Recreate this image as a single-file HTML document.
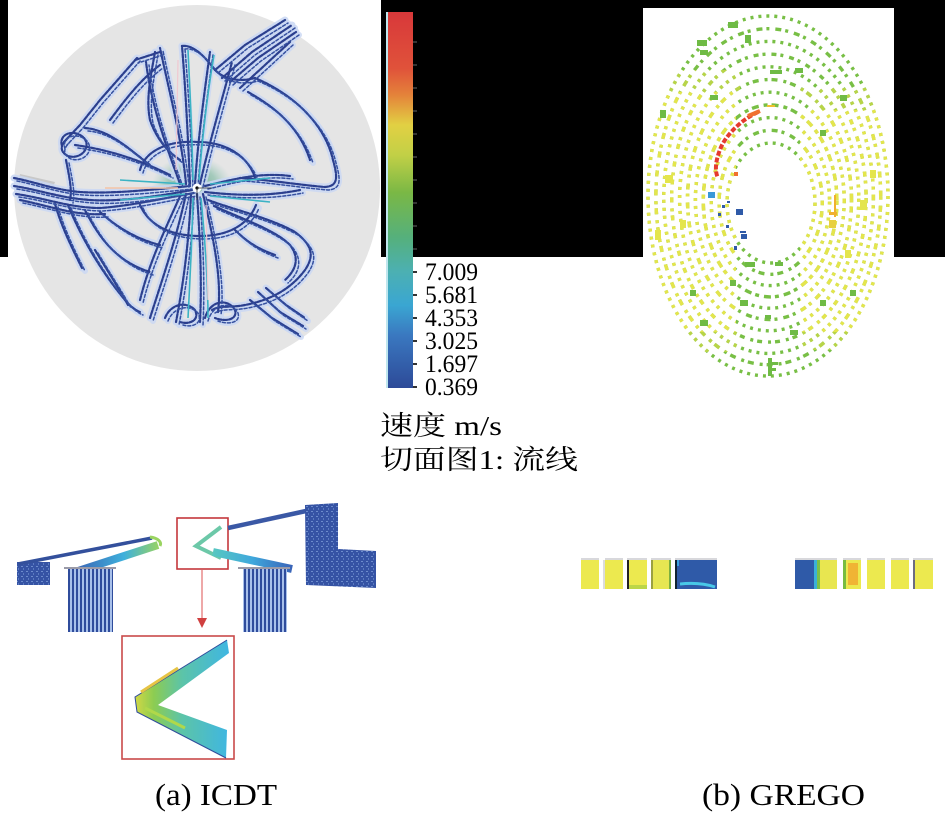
<!DOCTYPE html>
<html><head><meta charset="utf-8"><style>
html,body{margin:0;padding:0;background:#fff;}
svg{display:block;}
</style></head><body>
<svg width="945" height="823" viewBox="0 0 945 823" xmlns="http://www.w3.org/2000/svg">
<defs>
 <linearGradient id="cb" x1="0" y1="0" x2="0" y2="1">
  <stop offset="0" stop-color="#d8383a"/>
  <stop offset="0.15" stop-color="#e0523a"/>
  <stop offset="0.22" stop-color="#e4823a"/>
  <stop offset="0.30" stop-color="#e2d043"/>
  <stop offset="0.38" stop-color="#c2d046"/>
  <stop offset="0.48" stop-color="#7ab845"/>
  <stop offset="0.60" stop-color="#55b07c"/>
  <stop offset="0.69" stop-color="#4cb0b2"/>
  <stop offset="0.78" stop-color="#3aa6d2"/>
  <stop offset="0.86" stop-color="#3a78c0"/>
  <stop offset="1" stop-color="#2d4a98"/>
 </linearGradient>
 <radialGradient id="glow" cx="0.5" cy="0.5" r="0.5">
  <stop offset="0" stop-color="#6aae8a" stop-opacity="0.95"/>
  <stop offset="0.6" stop-color="#7ab8a0" stop-opacity="0.6"/>
  <stop offset="1" stop-color="#9cc8c0" stop-opacity="0"/>
 </radialGradient>
 <pattern id="vs" width="4" height="10" patternUnits="userSpaceOnUse">
  <rect width="4" height="10" fill="#a8c0ea"/><rect width="2" height="10" fill="#2f4c9c"/>
 </pattern>
 <pattern id="tex" width="5" height="5" patternUnits="userSpaceOnUse">
  <rect width="5" height="5" fill="#3553a4"/><rect x="1" y="1" width="2" height="1" fill="#6d8ccc"/><rect x="3" y="3" width="1" height="2" fill="#5a7ac0"/>
 </pattern>
 <linearGradient id="vg" x1="135" y1="0" x2="229" y2="0" gradientUnits="userSpaceOnUse">
  <stop offset="0" stop-color="#d2d844"/>
  <stop offset="0.2" stop-color="#8ccc52"/>
  <stop offset="0.5" stop-color="#5cc4a8"/>
  <stop offset="1" stop-color="#3fb6e2"/>
 </linearGradient>
 <linearGradient id="lb" x1="70" y1="0" x2="160" y2="0" gradientUnits="userSpaceOnUse">
  <stop offset="0" stop-color="#3a5cb0"/>
  <stop offset="0.6" stop-color="#3eb0dc"/>
  <stop offset="1" stop-color="#9ad460"/>
 </linearGradient>
 <linearGradient id="rb" x1="212" y1="0" x2="292" y2="0" gradientUnits="userSpaceOnUse">
  <stop offset="0" stop-color="#58c8c0"/>
  <stop offset="0.5" stop-color="#3fa8dc"/>
  <stop offset="1" stop-color="#3a64b8"/>
 </linearGradient>
 <clipPath id="ylw"><rect x="640" y="92" width="96" height="240"/><rect x="800" y="110" width="100" height="222"/></clipPath>
 <clipPath id="ylg"><rect x="640" y="70" width="100" height="22"/><rect x="640" y="332" width="100" height="20"/><rect x="800" y="88" width="100" height="22"/><rect x="800" y="332" width="100" height="18"/></clipPath>
 <g id="sl" fill="none" stroke-linecap="round" stroke-linejoin="round">
  <path d="M14,178 C35,182 55,190 80,192 C110,194 150,190 190,186"/>
  <path d="M14,186 C40,190 60,198 90,200 C120,202 160,196 192,190"/>
  <path d="M16,194 C45,198 70,208 100,208 C130,206 165,198 194,193"/>
  <path d="M20,200 C50,206 75,216 105,214"/>
  <path d="M62,146 C58,134 74,128 84,138 C92,148 80,160 68,156 C60,152 60,146 66,140"/>
  <path d="M66,160 C70,180 72,190 70,200"/>
  <path d="M137,58 L100,100 L80,125 L64,142"/>
  <path d="M155,52 C150,80 146,100 150,120 C155,135 165,150 180,160"/>
  <path d="M160,52 L135,60"/>
  <path d="M85,128 C110,130 130,150 150,165"/>
  <path d="M75,145 C110,150 140,160 170,175"/>
  <path d="M140,170 C145,150 170,140 198,142 C230,142 250,160 255,178"/>
  <path d="M140,205 C150,228 175,236 200,236 C228,236 248,225 256,205"/>
  <path d="M186,184 C182,140 170,95 160,48"/>
  <path d="M190,184 C188,140 186,95 182,46"/>
  <path d="M195,184 C198,140 204,95 210,52"/>
  <path d="M200,184 C210,140 222,100 232,62"/>
  <path d="M180,184 C168,150 152,110 146,62"/>
  <path d="M186,194 C176,240 162,280 150,318"/>
  <path d="M191,194 C189,240 184,280 176,322"/>
  <path d="M197,194 C200,240 202,280 200,322"/>
  <path d="M203,194 C214,240 222,280 218,312"/>
  <path d="M181,194 C165,230 150,260 140,300"/>
  <path d="M182,46 C190,45 200,50 215,70 C225,80 240,82 255,78"/>
  <path d="M215,70 L245,45 L285,20"/>
  <path d="M222,78 L252,52 L292,25"/>
  <path d="M230,82 L258,58 L296,32"/>
  <path d="M240,88 L265,65 L290,42"/>
  <path d="M255,78 C295,95 325,125 333,160 C338,178 338,186 325,187 C300,185 270,180 240,178"/>
  <path d="M248,92 C280,110 300,130 310,160"/>
  <path d="M205,186 C230,180 260,172 290,176"/>
  <path d="M205,192 C240,196 270,196 300,190"/>
  <path d="M208,200 C235,210 270,218 295,232 C312,245 315,255 305,270 C290,290 270,300 245,305 C230,308 220,305 212,310"/>
  <path d="M214,206 C245,220 275,230 290,245 C300,258 296,270 285,280"/>
  <path d="M235,230 C250,245 262,250 275,255"/>
  <path d="M250,300 L272,318 L298,334"/>
  <path d="M258,292 L280,312 L303,326"/>
  <path d="M266,288 L286,305 L305,318"/>
  <path d="M165,318 C170,305 185,300 195,310 C200,320 190,325 180,322"/>
  <path d="M205,318 C210,300 228,298 235,310 C238,320 225,322 215,318"/>
  <path d="M68,205 C80,235 100,270 125,300 C130,306 135,310 140,312"/>
  <path d="M85,210 C100,240 118,262 150,272"/>
  <path d="M100,212 C120,230 140,240 160,245"/>
  <path d="M55,204 C62,228 72,248 82,268"/>
  <path d="M110,120 C125,100 140,80 160,65"/>
  <path d="M95,250 C110,275 120,290 128,305"/>
 </g>
</defs>

<rect width="945" height="823" fill="#fff"/>
<rect x="0" y="0" width="945" height="257" fill="#000"/>
<rect x="8" y="0" width="373" height="257" fill="#fff"/>
<rect x="643" y="8" width="251" height="249" fill="#fff"/>

<!-- (a) top: circle with streamlines -->
<circle cx="197" cy="188" r="183" fill="#e5e5e5"/>
<path d="M20,174 L55,182 L52,190 L18,184 Z" fill="#c8c8c8"/>
<ellipse cx="192" cy="184" rx="40" ry="28" fill="url(#glow)"/>
<use href="#sl" stroke="#cad8f4" stroke-width="7" opacity="0.85"/>
<use href="#sl" stroke="#cad8f4" stroke-width="6" opacity="0.8" transform="translate(3,3)"/>
<use href="#sl" stroke="#2b3f8e" stroke-width="2.2" stroke-dasharray="4 1.5"/>
<use href="#sl" stroke="#3550a0" stroke-width="1.5" stroke-dasharray="3 2" transform="translate(3,3)"/>
<g fill="none" stroke="#3bb3c4" stroke-width="1.6">
 <path d="M193,180 C192,130 190,90 188,50"/>
 <path d="M199,180 C203,130 208,90 214,55"/>
 <path d="M193,198 C192,240 190,280 188,318"/>
 <path d="M201,198 C205,240 208,280 208,318"/>
 <path d="M120,180 L185,184"/><path d="M210,184 L270,178"/>
 <path d="M120,200 L185,194"/><path d="M210,196 L270,202"/>
</g>
<path d="M105,188 L178,188" stroke="#f3c3a6" stroke-width="1.6"/>
<path d="M178,60 L176,170 M206,205 L208,300" stroke="#f0c8d0" stroke-width="1.2"/>
<circle cx="197" cy="188" r="4.5" fill="#fff"/>
<circle cx="197" cy="188" r="1.6" fill="#000"/>
<path d="M197,188 L212,188 M197,188 L197,200" stroke="#333" stroke-width="0.8"/>

<!-- colorbar -->
<rect x="387" y="12" width="26" height="376" fill="url(#cb)"/>
<rect x="386" y="12" width="2" height="376" fill="#bfe6ee"/>
<g fill="#333">
 <rect x="413" y="41" width="4" height="2"/><rect x="413" y="64" width="4" height="2"/>
 <rect x="413" y="87" width="4" height="2"/><rect x="413" y="110" width="4" height="2"/>
 <rect x="413" y="133" width="4" height="2"/><rect x="413" y="156" width="4" height="2"/>
 <rect x="413" y="179" width="4" height="2"/><rect x="413" y="202" width="4" height="2"/>
 <rect x="413" y="225" width="4" height="2"/><rect x="413" y="248" width="4" height="2"/>
 <rect x="413" y="271" width="4" height="2"/><rect x="413" y="294" width="4" height="2"/>
 <rect x="413" y="317" width="4" height="2"/><rect x="413" y="340" width="4" height="2"/>
 <rect x="413" y="363" width="4" height="2"/><rect x="413" y="386" width="4" height="2"/>
</g>
<g font-family="Liberation Serif, serif" font-size="25" fill="#000">
 <text x="425" y="280" textLength="53" lengthAdjust="spacingAndGlyphs">7.009</text>
 <text x="425" y="303" textLength="53" lengthAdjust="spacingAndGlyphs">5.681</text>
 <text x="425" y="326" textLength="53" lengthAdjust="spacingAndGlyphs">4.353</text>
 <text x="425" y="349" textLength="53" lengthAdjust="spacingAndGlyphs">3.025</text>
 <text x="425" y="372" textLength="53" lengthAdjust="spacingAndGlyphs">1.697</text>
 <text x="425" y="395" textLength="53" lengthAdjust="spacingAndGlyphs">0.369</text>
</g>
<g font-family="Liberation Serif, 'Noto Serif CJK SC', serif" font-size="27" fill="#000">
 <text x="380" y="435" textLength="122" lengthAdjust="spacingAndGlyphs">速度 m/s</text>
 <text x="380" y="469" textLength="198" lengthAdjust="spacingAndGlyphs">切面图1: 流线</text>
</g>

<!-- (b) top: dotted elliptical rings -->
<g fill="none" stroke-width="3.4" stroke-dasharray="3 5">
 <g stroke="#78bf45">
  <ellipse cx="771" cy="203" rx="44" ry="60"/>
  <ellipse cx="770.7" cy="202.3" rx="51.6" ry="72" stroke-dasharray="3 6 6 4"/>
  <ellipse cx="770.4" cy="201.6" rx="59.2" ry="84"/>
  <ellipse cx="770.1" cy="200.9" rx="66.8" ry="96" stroke-dasharray="4 4 7 5"/>
  <ellipse cx="769.8" cy="200.2" rx="74.4" ry="108"/>
  <ellipse cx="769.5" cy="199.5" rx="82" ry="120" stroke-dasharray="3 4 6 6"/>
  <ellipse cx="769.2" cy="198.8" rx="89.6" ry="132"/>
  <ellipse cx="768.9" cy="198.1" rx="97.2" ry="144" stroke-dasharray="5 4 3 6"/>
  <ellipse cx="768.6" cy="197.4" rx="104.8" ry="156"/>
  <ellipse cx="768.3" cy="196.7" rx="112.4" ry="168" stroke-dasharray="3 6 6 4"/>
  <ellipse cx="768" cy="196" rx="120" ry="180"/>
 </g>
 <g stroke="#e4e54c" clip-path="url(#ylw)">
  <ellipse cx="771" cy="203" rx="44" ry="60"/>
  <ellipse cx="770.7" cy="202.3" rx="51.6" ry="72" stroke-dasharray="3 6 6 4"/>
  <ellipse cx="770.4" cy="201.6" rx="59.2" ry="84"/>
  <ellipse cx="770.1" cy="200.9" rx="66.8" ry="96" stroke-dasharray="4 4 7 5"/>
  <ellipse cx="769.8" cy="200.2" rx="74.4" ry="108"/>
  <ellipse cx="769.5" cy="199.5" rx="82" ry="120" stroke-dasharray="3 4 6 6"/>
  <ellipse cx="769.2" cy="198.8" rx="89.6" ry="132"/>
  <ellipse cx="768.9" cy="198.1" rx="97.2" ry="144" stroke-dasharray="5 4 3 6"/>
  <ellipse cx="768.6" cy="197.4" rx="104.8" ry="156"/>
  <ellipse cx="768.3" cy="196.7" rx="112.4" ry="168" stroke-dasharray="3 6 6 4"/>
  <ellipse cx="768" cy="196" rx="120" ry="180"/>
 </g>
 <g stroke="#b8d448" clip-path="url(#ylg)">
  <ellipse cx="769.5" cy="199.5" rx="82" ry="120" stroke-dasharray="3 4 6 6"/>
  <ellipse cx="769.2" cy="198.8" rx="89.6" ry="132"/>
  <ellipse cx="768.9" cy="198.1" rx="97.2" ry="144" stroke-dasharray="5 4 3 6"/>
  <ellipse cx="768.6" cy="197.4" rx="104.8" ry="156"/>
  <ellipse cx="768.3" cy="196.7" rx="112.4" ry="168" stroke-dasharray="3 6 6 4"/>
  <ellipse cx="768" cy="196" rx="120" ry="180"/>
 </g>
</g>
<g fill="#6fbb45">
 <rect x="728" y="22" width="10" height="6"/><rect x="700" y="50" width="8" height="5"/>
 <rect x="697" y="40" width="10" height="6"/><rect x="745" y="35" width="6" height="8"/>
 <rect x="770" y="70" width="12" height="4"/><rect x="795" y="68" width="8" height="5"/>
 <rect x="660" y="110" width="6" height="8"/><rect x="710" y="95" width="8" height="5"/>
 <rect x="840" y="95" width="7" height="6"/><rect x="820" y="130" width="6" height="6"/>
 <rect x="745" y="262" width="10" height="5"/><rect x="775" y="262" width="8" height="4"/>
 <rect x="730" y="280" width="6" height="6"/><rect x="700" y="320" width="8" height="6"/>
 <rect x="790" y="330" width="8" height="5"/><rect x="820" y="300" width="6" height="6"/>
 <rect x="740" y="300" width="8" height="6"/><rect x="765" y="315" width="6" height="4"/>
 <rect x="690" y="290" width="6" height="6"/><rect x="850" y="290" width="6" height="6"/>
 <rect x="768" y="358" width="4" height="18"/><rect x="770" y="362" width="8" height="3"/><rect x="770" y="368" width="6" height="3"/>
</g>
<g fill="#e4e54c">
 <rect x="665" y="175" width="8" height="8"/><rect x="680" y="220" width="6" height="8"/>
 <rect x="860" y="200" width="7" height="10"/><rect x="845" y="250" width="6" height="8"/>
 <rect x="655" y="230" width="6" height="10"/><rect x="870" y="170" width="6" height="8"/>
</g>
<path d="M758,112 C745,118 730,130 722,145 C716,158 714,170 718,178" fill="none" stroke="#e53a2e" stroke-width="4" stroke-dasharray="5 2"/>
<path d="M748,116 L760,111" stroke="#f07030" stroke-width="4"/>
<rect x="767" y="105" width="8" height="2" fill="#f0c030"/>
<rect x="734" y="172" width="4" height="4" fill="#f07030"/>
<rect x="834" y="195" width="2" height="22" fill="#f0b030"/>
<rect x="829" y="212" width="8" height="3" fill="#f0b030"/>
<rect x="829" y="220" width="7" height="8" fill="#e8d040"/>
<g fill="#2f5aa8">
 <rect x="708" y="192" width="7" height="6" fill="#3a98d8"/>
 <rect x="736" y="209" width="7" height="6"/><rect x="741" y="234" width="6" height="5"/>
 <rect x="722" y="205" width="3" height="3"/><rect x="718" y="213" width="3" height="3"/>
 <rect x="726" y="225" width="3" height="3"/><rect x="734" y="246" width="3" height="4"/>
 <rect x="727" y="201" width="3" height="2"/><rect x="740" y="231" width="6" height="2"/>
</g>

<!-- (a) bottom: cross-section detail -->
<rect x="17" y="562" width="33" height="23" fill="url(#tex)"/>
<path d="M18,564 L152,538" stroke="#33509c" stroke-width="3.5" fill="none"/>
<path d="M150,537 C158,538 162,542 160,546" stroke="#9ad460" stroke-width="3" fill="none"/>
<path d="M78,571 L158,545" stroke="url(#lb)" stroke-width="8" fill="none"/>
<rect x="68" y="569" width="45" height="63" fill="url(#vs)"/>
<rect x="64" y="567" width="52" height="2" fill="#9a9aa8"/>
<rect x="177" y="518" width="51" height="51" fill="none" stroke="#c4373c" stroke-width="1.6"/>
<polyline points="221,527 196,546 221,558" fill="none" stroke="#6cc8a8" stroke-width="4"/>
<path d="M228,528 L306,511" stroke="#3a58a5" stroke-width="4.5" fill="none"/>
<path d="M213,552 L292,569" stroke="url(#rb)" stroke-width="8" fill="none"/>
<polygon points="305,505 338,503 338,549 376,551 376,588 306,585" fill="url(#tex)"/>
<rect x="243" y="569" width="44" height="63" fill="url(#vs)"/>
<rect x="238" y="567" width="52" height="2" fill="#9a9aa8"/>
<path d="M202,570 L202,620" stroke="#e88a8a" stroke-width="1.5"/>
<polygon points="197,618 207,618 202,628" fill="#d04040"/>
<rect x="122" y="636" width="112" height="123" fill="none" stroke="#c94a4a" stroke-width="1.6"/>
<polygon points="227,640 135,697 137,712 226,758 227,730 158,705 229,653" fill="url(#vg)"/>
<path d="M227,640 L135,697 L137,712 L226,758" fill="none" stroke="#2f4c9c" stroke-width="1"/>
<path d="M141,692 L178,668" stroke="#e6c444" stroke-width="3"/>
<path d="M145,708 L185,728" stroke="#b0d84a" stroke-width="3"/>

<!-- captions -->
<g font-family="Liberation Serif, serif" font-size="31" fill="#000">
 <text x="155" y="805" textLength="122" lengthAdjust="spacingAndGlyphs">(a) ICDT</text>
 <text x="702" y="805" textLength="163" lengthAdjust="spacingAndGlyphs">(b) GREGO</text>
</g>

<!-- (b) bottom: row of cells -->
<g>
 <rect x="581" y="558" width="18" height="31" fill="#ece94f"/><rect x="581" y="558" width="18" height="2" fill="#d8d8dc"/>
 <rect x="603" y="560" width="2" height="29" fill="#dcdcdc"/>
 <rect x="605" y="558" width="18" height="31" fill="#ece94f"/><rect x="605" y="558" width="18" height="2" fill="#d8d8dc"/>
 <rect x="627" y="558" width="20" height="31" fill="#ece94f"/><rect x="627" y="560" width="2" height="29" fill="#222"/>
 <rect x="629" y="585" width="18" height="4" fill="#bcd648"/><rect x="627" y="558" width="20" height="2" fill="#d8d8dc"/>
 <rect x="651" y="558" width="20" height="31" fill="#e6e652"/><rect x="651" y="560" width="2" height="29" fill="#9aa040"/>
 <rect x="669" y="560" width="2" height="29" fill="#7cb040"/><rect x="651" y="558" width="20" height="2" fill="#d8d8dc"/>
 <rect x="675" y="558" width="42" height="31" fill="#2f5aa8"/><rect x="675" y="558" width="42" height="2" fill="#d8d8dc"/>
 <rect x="675" y="560" width="2" height="29" fill="#123"/>
 <path d="M680,584 Q700,582 715,587" stroke="#48c8e8" stroke-width="3" fill="none"/>
 <rect x="677" y="560" width="2" height="6" fill="#3aa0e0"/>
 <rect x="795" y="558" width="42" height="31" fill="#2f5aa8"/><rect x="795" y="558" width="42" height="2" fill="#d8d8dc"/>
 <rect x="814" y="560" width="3" height="29" fill="#3ab0d8"/><rect x="817" y="560" width="3" height="29" fill="#7cc048"/>
 <rect x="820" y="560" width="17" height="29" fill="#e8e650"/>
 <rect x="843" y="558" width="18" height="31" fill="#ece94f"/><rect x="843" y="560" width="3" height="29" fill="#78bc40"/>
 <rect x="848" y="563" width="10" height="22" fill="#f0b434"/><rect x="843" y="558" width="18" height="2" fill="#d8d8dc"/>
 <rect x="867" y="558" width="18" height="31" fill="#ece94f"/><rect x="867" y="558" width="18" height="2" fill="#d8d8dc"/>
 <rect x="891" y="558" width="18" height="31" fill="#ece94f"/><rect x="891" y="558" width="18" height="2" fill="#d8d8dc"/>
 <rect x="913" y="558" width="20" height="31" fill="#ece94f"/><rect x="913" y="560" width="2" height="29" fill="#6c6c80"/>
 <rect x="913" y="558" width="20" height="2" fill="#d8d8dc"/>
</g>
</svg>
</body></html>
